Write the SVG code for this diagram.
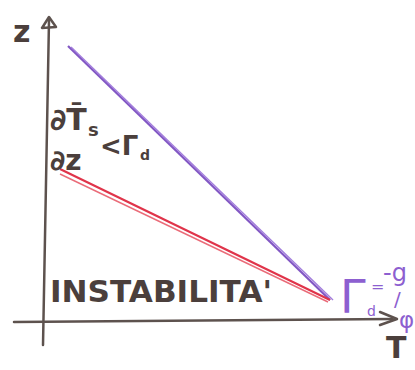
<svg xmlns="http://www.w3.org/2000/svg" width="415" height="370" viewBox="0 0 415 370">
<style>
.ax{stroke:#5d524e;stroke-width:2.5;fill:none;stroke-linecap:round;stroke-linejoin:round}
.t{font-family:"DejaVu Sans",sans-serif;font-weight:bold;fill:#4b3f3c}
.p{font-family:"DejaVu Sans",sans-serif;fill:#8d5fd0}
</style>
<rect width="415" height="370" fill="#ffffff"/>
<g id="connectors">
  <g id="z-axis"><path class="ax" d="M43,345 L49,20"/><path class="ax" d="M42,28 L49,17 L56,27 Z"/></g>
  <g id="t-axis"><path class="ax" d="M14,322 L392,319"/><path class="ax" d="M380,312 L397,319 L380,325"/></g>
  <g id="adiabatic"><path d="M68,46 L330,300" stroke="#8257c4" stroke-width="2.2" fill="none"/><path d="M71,47 L333,300" stroke="#a27ddc" stroke-width="1.4" fill="none"/></g>
  <g id="profile"><path d="M60,169 L330,300" stroke="#e0344a" stroke-width="2.2" fill="none"/><path d="M60,174 L328,302" stroke="#ea6b78" stroke-width="1.4" fill="none"/></g>
</g>
<g id="label-z"><text class="t" x="13" y="42" font-size="30" font-weight="normal" fill="#5d524e">z</text></g>
<g id="label-condition">
  <text class="t" x="50" y="130" font-size="30">∂T̄</text>
  <text class="t" x="88" y="136" font-size="18">s</text>
  <text class="t" x="50" y="170" font-size="28">∂z</text>
  <text class="t" x="100" y="155" font-size="26">&lt;Γ</text>
  <text class="t" x="140" y="160" font-size="14">d</text>
</g>
<g id="label-instability"><text class="t" x="50" y="302" font-size="31" textLength="222" lengthAdjust="spacingAndGlyphs">INSTABILITA'</text></g>
<g id="label-gamma">
  <text class="p" x="340" y="313" font-size="46">Γ</text>
  <text class="p" x="367" y="316" font-size="14">d</text>
  <text class="p" x="371" y="292" font-size="16">=</text>
  <text class="p" x="383" y="281" font-size="24">-g</text>
  <text class="p" x="394" y="306" font-size="20">/</text>
  <text class="p" x="399" y="328" font-size="23">φ</text>
</g>
<g id="label-T"><text class="t" x="386" y="358" font-size="30" font-weight="normal" fill="#5d524e">T</text></g>
</svg>
